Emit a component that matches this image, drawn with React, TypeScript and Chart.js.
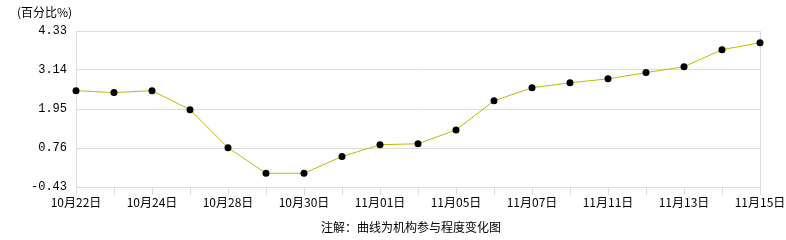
import React, { useEffect, useRef } from "react";
import { Chart, registerables } from "chart.js";

Chart.register(...registerables);

const categories = [
  "10月22日", "10月23日", "10月24日", "10月25日", "10月28日", "10月29日",
  "10月30日", "10月31日", "11月01日", "11月04日", "11月05日", "11月06日",
  "11月07日", "11月08日", "11月11日", "11月12日", "11月13日", "11月14日", "11月15日",
];
const values = [
  2.51, 2.45, 2.51, 1.93, 0.77, -0.01, -0.01, 0.5, 0.86, 0.89, 1.31, 2.2,
  2.6, 2.75, 2.87, 3.06, 3.24, 3.76, 3.97,
];
const yTicks = [-0.43, 0.76, 1.95, 3.14, 4.33];
const unitLabel = "(百分比%)";
const noteLabel = "注解：曲线为机构参与程度变化图";

const CJK = '"Noto Sans CJK SC", "DejaVu Sans", sans-serif';

const textPlugin = {
  id: "texts",
  afterDraw(chart: any) {
    const ctx = chart.ctx;
    ctx.save();
    ctx.fillStyle = "#000";
    ctx.font = "12px " + CJK;
    ctx.textBaseline = "middle";
    ctx.textAlign = "left";
    ctx.fillText(unitLabel, 17, 12);
    ctx.textAlign = "center";
    ctx.fillText(noteLabel, 411, 227);
    ctx.restore();
  },
};

export default function App() {
  const ref = useRef<HTMLCanvasElement>(null);
  useEffect(() => {
    if (!ref.current) return;
    const chart = new Chart(ref.current, {
      type: "line",
      data: {
        labels: categories,
        datasets: [
          {
            data: values,
            borderColor: "#C2BA00",
            borderWidth: 1,
            backgroundColor: "#000",
            pointBackgroundColor: "#000",
            pointBorderColor: "#000",
            pointRadius: 3.5,
            pointBorderWidth: 0,
            tension: 0,
            fill: false,
          },
        ],
      },
      options: {
        animation: false,
        responsive: false,
        maintainAspectRatio: false,
        layout: { padding: { left: 0, right: 26, top: 31, bottom: 0 } },
        plugins: { legend: { display: false }, tooltip: { enabled: false }, title: { display: false } },
        scales: {
          x: {
            type: "category",
            offset: false,
            border: { display: true, color: "#DDDDDD", width: 1 },
            grid: {
              drawOnChartArea: true,
              color: (c: any) => (c.index === categories.length - 1 ? "#DDDDDD" : "rgba(0,0,0,0)"),
              tickColor: "#DDDDDD",
              tickLength: 8,
              lineWidth: 1,
            },
            ticks: {
              autoSkip: false,
              maxRotation: 0,
              minRotation: 0,
              padding: 0,
              color: "#000",
              font: { family: CJK, size: 12 },
              callback: (v: any, i: number) => (i % 2 === 0 ? categories[i] : ""),
            },
            afterFit: (s: any) => {
              s.height = 53;
            },
          },
          y: {
            min: -0.43,
            max: 4.33,
            border: { display: true, color: "#DDDDDD", width: 1 },
            grid: { color: "#DDDDDD", drawTicks: false, lineWidth: 1 },
            afterBuildTicks: (s: any) => {
              s.ticks = yTicks.map((v) => ({ value: v }));
            },
            ticks: {
              padding: 9,
              color: "#000",
              font: { family: '"Liberation Mono", monospace', size: 12 },
              callback: (v: any) => Number(v).toFixed(2),
            },
            afterFit: (s: any) => {
              s.width = 76;
            },
          },
        },
      },
      plugins: [textPlugin],
    });
    return () => chart.destroy();
  }, []);
  return (
    <div style={{ position: "fixed", left: 0, top: 0, width: 786, height: 240, background: "#fff" }}>
      <canvas ref={ref} width={786} height={240} style={{ width: 786, height: 240 }} />
    </div>
  );
}
